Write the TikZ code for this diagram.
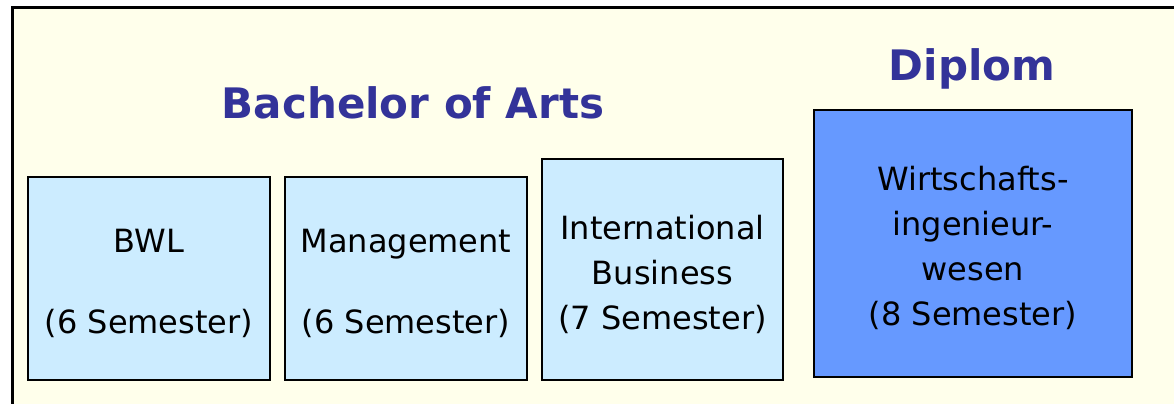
\documentclass[tikz,border=0pt]{standalone}
\usepackage{fontspec}
\setmainfont{DejaVu Sans}
\definecolor{frameyellow}{HTML}{FFFFEB}
\definecolor{lightcourse}{HTML}{CCECFF}
\definecolor{darkcourse}{HTML}{6699FF}
\definecolor{titleblue}{HTML}{333399}

\newcommand{\topgap}{\rule{0pt}{17pt}}

\tikzset{
  course/.style = {draw=black, line width=1pt, fill=lightcourse, align=center,
                   inner sep=0pt, font=\fontsize{16}{22.5}\selectfont},
  degree/.style = {text=titleblue, anchor=base, font=\fontsize{21}{25}\selectfont\bfseries}
}

\begin{document}
\begin{tikzpicture}[x=0.5pt, y=-0.5pt]
\useasboundingbox (0,0) rectangle (1174,403);
\clip (0,0) rectangle (1174,403);

\draw[line width=1.5pt, fill=frameyellow] (12,7) rectangle (1200,430);

\node[degree] (ba) at (413,118) {Bachelor of Arts};
\node[degree] (dipl) at (972,80) {Diplom};

\node[course, minimum width=121pt, minimum height=101.5pt] (bwl) at (149,278.5)
  {\topgap BWL\\[18pt](6 Semester)};
\node[course, minimum width=121pt, minimum height=101.5pt] (mgmt) at (406,278.5)
  {\topgap Management\\[18pt](6 Semester)};
\node[course, minimum width=120.5pt, minimum height=110.5pt] (ib) at (662.5,269.5)
  {\topgap International\\Business\\(7 Semester)};
\node[course, fill=darkcourse, minimum width=159pt, minimum height=133.5pt] (wing) at (973,243.5)
  {\topgap Wirtschafts-\\ingenieur-\\wesen\\(8 Semester)};

\end{tikzpicture}
\end{document}
